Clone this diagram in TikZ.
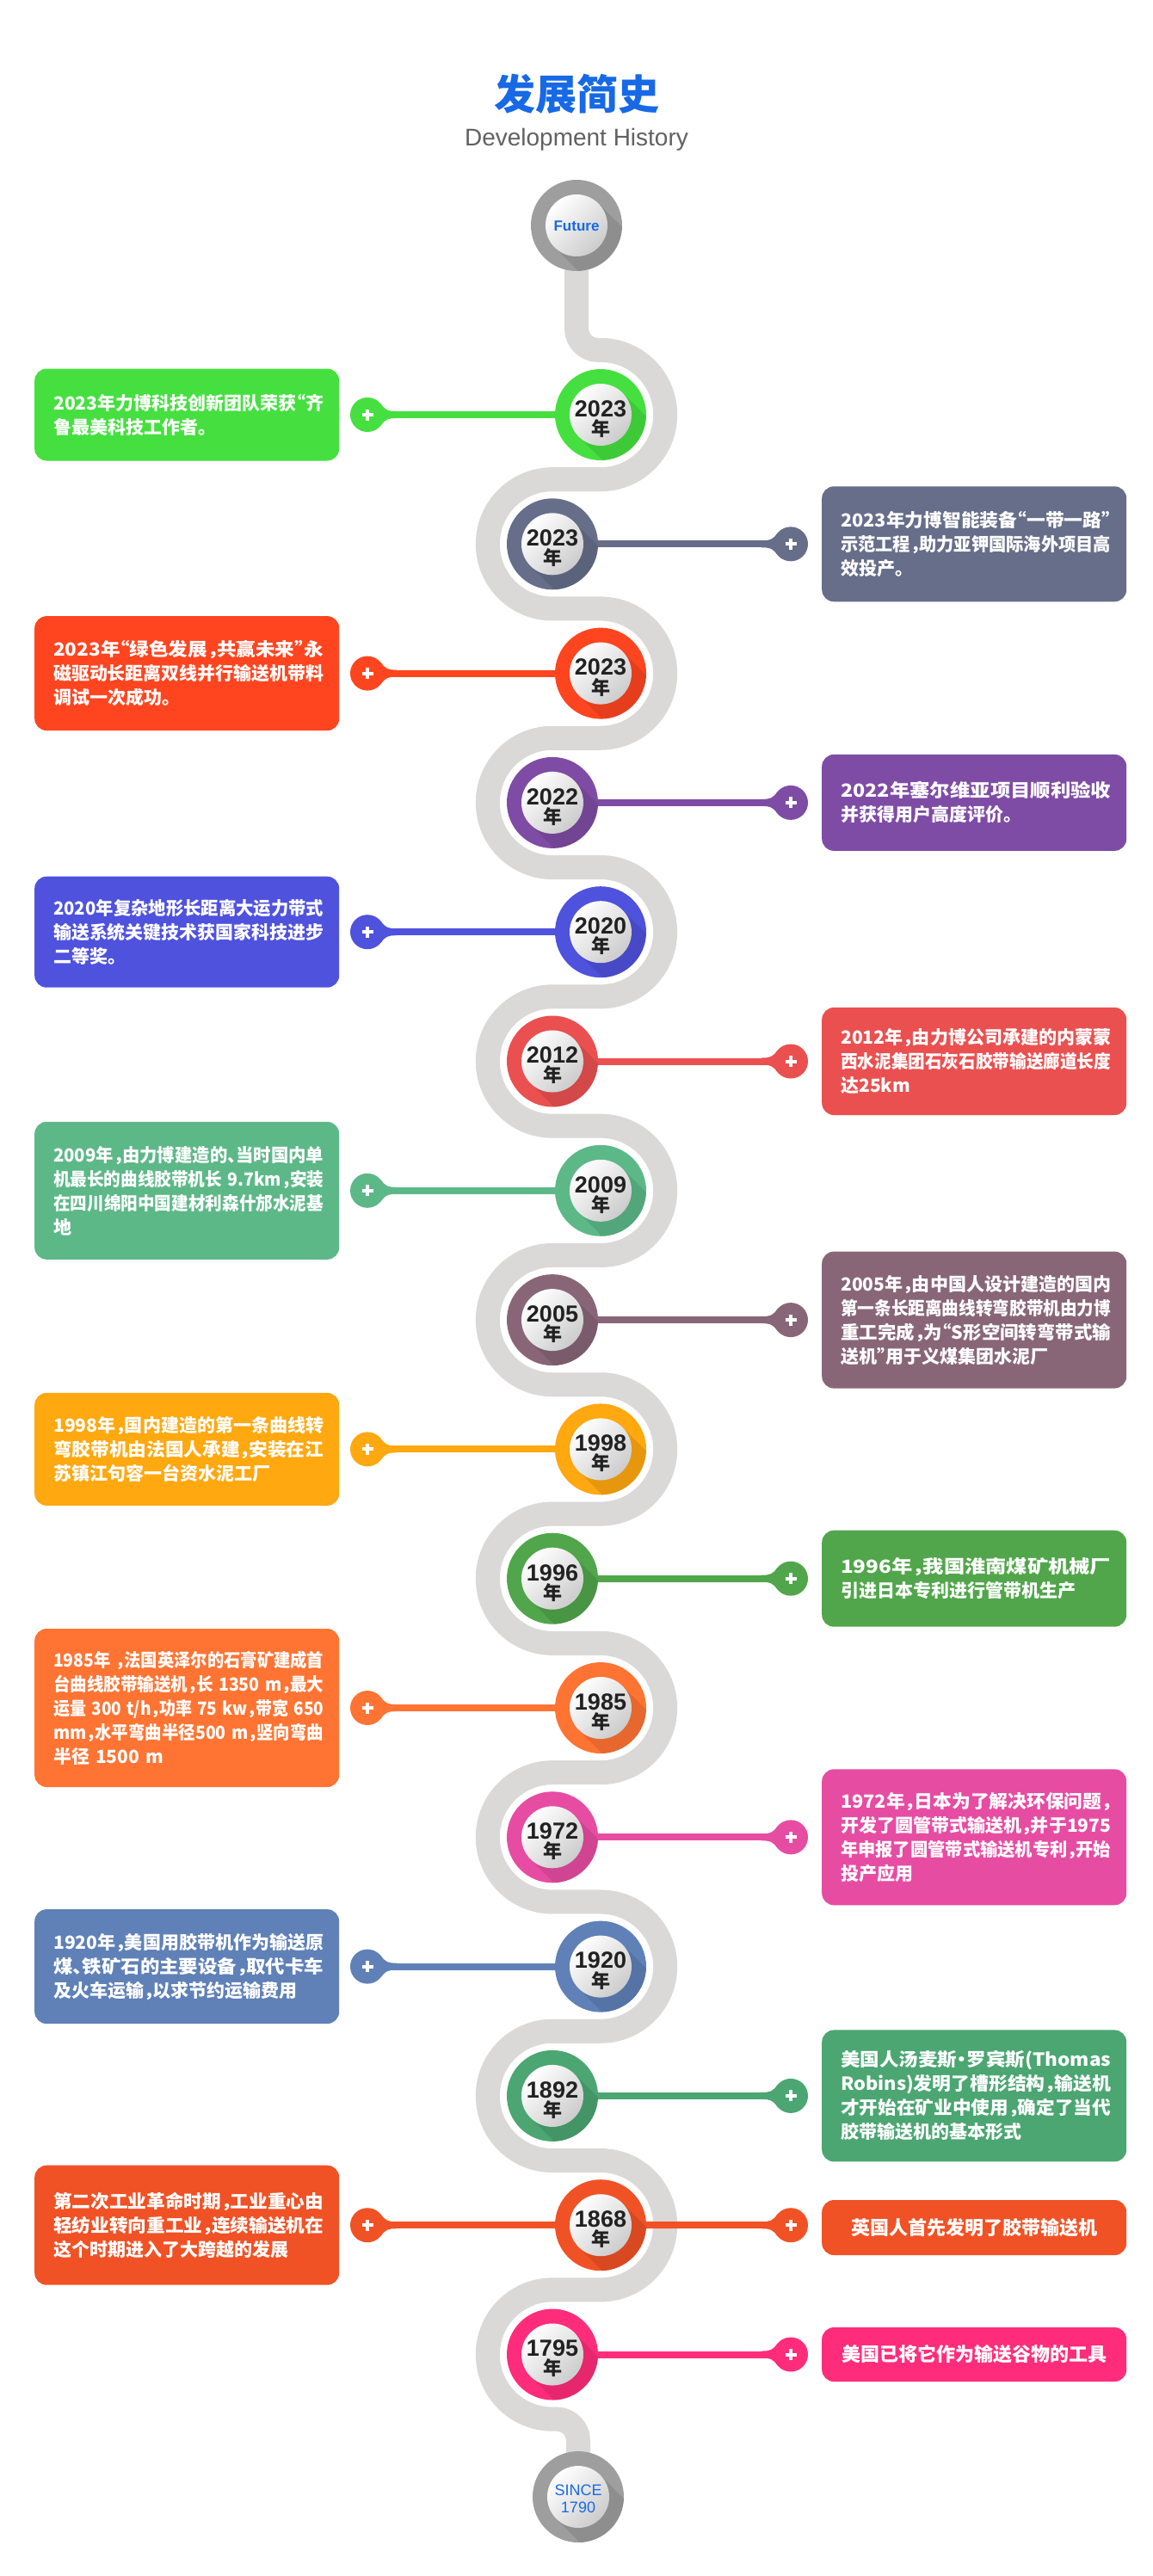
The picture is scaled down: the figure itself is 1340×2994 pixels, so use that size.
\documentclass[tikz,border=0pt]{standalone}
\usepackage{fontspec}
\usepackage{graphicx}
\setmainfont{Liberation Sans}
\newfontfamily\cjk{Noto Sans CJK SC}[RawFeature=+halt]
\usetikzlibrary{calc}
\definecolor{c0}{HTML}{45E03F}
\definecolor{c1}{HTML}{666E8A}
\definecolor{c2}{HTML}{FF4520}
\definecolor{c3}{HTML}{7F4CA5}
\definecolor{c4}{HTML}{4F52DD}
\definecolor{c5}{HTML}{EB5050}
\definecolor{c6}{HTML}{5DB888}
\definecolor{c7}{HTML}{886678}
\definecolor{c8}{HTML}{FFA810}
\definecolor{c9}{HTML}{51A64B}
\definecolor{c10}{HTML}{FF7433}
\definecolor{c11}{HTML}{E74CA3}
\definecolor{c12}{HTML}{5F81B7}
\definecolor{c13}{HTML}{4BA672}
\definecolor{c14}{HTML}{F05225}
\definecolor{c15}{HTML}{FF2C7B}
\definecolor{ringgray}{HTML}{9E9E9E}
\definecolor{roadgray}{HTML}{DAD9D8}
\definecolor{titleblue}{HTML}{1769E6}
\newcommand\bxfont{\cjk\bfseries\fontsize{21}{28}\selectfont}
\newcommand\fl[1]{\resizebox{314pt}{\height}{#1}}
\newcommand\flare[3]{\fill[#2] ($(#1)+(#3*15.3,-12.9)$) .. controls ($(#1)+(#3*21,-5)$) and ($(#1)+(#3*24,-4)$) .. ($(#1)+(#3*34,-4)$) -- ($(#1)+(#3*34,4)$) .. controls ($(#1)+(#3*24,4)$) and ($(#1)+(#3*21,5)$) .. ($(#1)+(#3*15.3,12.9)$) -- cycle;}
\tikzset{
  road/.style={draw=roadgray, line width=28pt, line join=round},
  yr/.style={circle, fill=#1, minimum size=106pt, inner sep=0pt, path picture={
    \coordinate (ppc) at (path picture bounding box.center);
    \fill[#1!72!black, opacity=0.35] ($(ppc)+(25.5,-25.5)$) -- ($(ppc)+(-25.5,25.5)$) -- ($(ppc)+(54.5,105.5)$) -- ($(ppc)+(105.5,54.5)$) -- cycle;
    \shade[top color=white, bottom color=black!20, shading angle=45] (ppc) circle[radius=36];
  }},
  knob/.style={circle, fill=#1, minimum size=40pt, inner sep=0pt, path picture={
    \fill[white] ($(path picture bounding box.center)+(-6.5,-2)$) rectangle ($(path picture bounding box.center)+(6.5,2)$);
    \fill[white] ($(path picture bounding box.center)+(-2,-6.5)$) rectangle ($(path picture bounding box.center)+(2,6.5)$);
  }},
  conn/.style={draw=#1, line width=8pt},
  tbox/.style={rectangle, rounded corners=14pt, fill=#1, text=white, font=\bxfont, align=left, text width=310pt, inner xsep=22pt, inner ysep=0pt, anchor=west},
  cbox/.style={tbox=#1, align=center, font=\cjk\bfseries\fontsize{22}{28}\selectfont},
  yrnum/.style={font=\bfseries\fontsize{27}{27}\selectfont, text=black!87, inner sep=0pt},
  yrcjk/.style={font=\cjk\bfseries\fontsize{22}{22}\selectfont, text=black!87, inner sep=0pt},
}
\begin{document}
\begin{tikzpicture}[x=1pt, y=-1pt]
\fill[white] (0,0) rectangle (1340,2994);
\useasboundingbox (0,0) rectangle (1340,2994);

% title
\node[font=\cjk\bfseries\fontsize{48}{48}\selectfont, text=titleblue] (title) at (670,109) {发展简史};
\node[font=\fontsize{28}{28}\selectfont, text=black!62] (subtitle) at (670,162) {Development History};

% winding road
\draw[road] (670,262) -- (670,381.85) arc[start angle=180, end angle=90, radius=25] -- (698,406.85)
  \foreach \i in {0,...,15} { -- ({698-56*mod(\i,2)},{482+150.3*\i-75.15}) arc[start angle={-90+360*mod(\i,2)}, end angle=90, radius=75.15] }
  -- (647,2811.65) arc[start angle=-90, end angle=0, radius=25] -- (672,2902);

% end circles
\node[yr=ringgray] (future) at (670,262) {};
\node[font=\bfseries\fontsize{17}{17}\selectfont, text=titleblue, inner sep=0pt] (futuretext) at (670,263) {Future};
\node[yr=ringgray] (since) at (672,2902) {};
\node[font=\fontsize{18}{20}\selectfont, text=titleblue, align=center, inner sep=0pt] (sincetext) at (672,2904) {SINCE\\1790};

% year circles
\foreach \i in {0,...,15} {
  \node[yr=c\i] (c\i) at ({698-56*mod(\i,2)},{482+150.3*\i}) {};
}

% knobs and connectors (left side)
\foreach \i in {0,2,...,14} {
  \node[knob=c\i] (p\i) at (427,{482+150.3*\i}) {};
  \draw[conn=c\i] (c\i) -- (p\i);
  \flare{p\i}{c\i}{1}
}
% knobs and connectors (right side)
\foreach \i in {1,3,...,15} {
  \node[knob=c\i] (p\i) at (919,{482+150.3*\i}) {};
  \draw[conn=c\i] (c\i) -- (p\i);
  \flare{p\i}{c\i}{-1}
}
\node[knob=c14] (q14) at (919,2586.2) {};
\draw[conn=c14] (c14) -- (q14);
\flare{q14}{c14}{-1}

% year labels
\foreach \i/\yr in {0/2023,1/2023,2/2023,3/2022,4/2020,5/2012,6/2009,7/2005,8/1998,9/1996,10/1985,11/1972,12/1920,13/1892,14/1868,15/1795} {
  \node[yrnum] (y\i) at ({698-56*mod(\i,2)},{482+150.3*\i-7}) {\yr};
  \node[yrcjk] (n\i) at ({698-56*mod(\i,2)},{482+150.3*\i+16}) {年};
}

% text boxes
\node[tbox=c0, minimum height=107pt] (b0) at (40,482.0) {\fl{2023年力博科技创新团队荣获“齐}\\鲁最美科技工作者。};
\node[tbox=c1, minimum height=134pt] (b1) at (955,632.3) {\fl{2023年力博智能装备“一带一路”}\\\fl{示范工程，助力亚钾国际海外项目高}\\效投产。};
\node[tbox=c2, minimum height=133pt] (b2) at (40,782.6) {\fl{2023年“绿色发展，共赢未来”永}\\\fl{磁驱动长距离双线并行输送机带料}\\调试一次成功。};
\node[tbox=c3, minimum height=112pt] (b3) at (955,932.9) {\fl{2022年塞尔维亚项目顺利验收}\\并获得用户高度评价。};
\node[tbox=c4, minimum height=129pt] (b4) at (40,1083.2) {\fl{2020年复杂地形长距离大运力带式}\\\fl{输送系统关键技术获国家科技进步}\\二等奖。};
\node[tbox=c5, minimum height=125pt] (b5) at (955,1233.5) {\fl{2012年，由力博公司承建的内蒙蒙}\\\fl{西水泥集团石灰石胶带输送廊道长度}\\达25km};
\node[tbox=c6, minimum height=160pt] (b6) at (40,1383.8) {\fl{2009年，由力博建造的、当时国内单}\\\fl{机最长的曲线胶带机长 9.7km，安装}\\\fl{在四川绵阳中国建材利森什邡水泥基}\\地};
\node[tbox=c7, minimum height=159pt] (b7) at (955,1534.1) {\fl{2005年，由中国人设计建造的国内}\\\fl{第一条长距离曲线转弯胶带机由力博}\\\fl{重工完成，为“S形空间转弯带式输}\\送机”用于义煤集团水泥厂};
\node[tbox=c8, minimum height=131pt] (b8) at (40,1684.4) {\fl{1998年，国内建造的第一条曲线转}\\\fl{弯胶带机由法国人承建，安装在江}\\苏镇江句容一台资水泥工厂};
\node[tbox=c9, minimum height=112pt] (b9) at (955,1834.7) {\fl{1996年，我国淮南煤矿机械厂}\\引进日本专利进行管带机生产};
\node[tbox=c10, minimum height=184pt] (b10) at (40,1985.0) {\fl{1985年 ，法国英泽尔的石膏矿建成首}\\\fl{台曲线胶带输送机，长 1350 m，最大}\\\fl{运量 300 t/h，功率 75 kw，带宽 650}\\\fl{mm，水平弯曲半径500 m，竖向弯曲}\\半径 1500 m};
\node[tbox=c11, minimum height=158pt] (b11) at (955,2135.3) {\fl{1972年，日本为了解决环保问题，}\\\fl{开发了圆管带式输送机，并于1975}\\\fl{年申报了圆管带式输送机专利，开始}\\投产应用};
\node[tbox=c12, minimum height=133pt] (b12) at (40,2285.6) {\fl{1920年，美国用胶带机作为输送原}\\\fl{煤、铁矿石的主要设备，取代卡车}\\及火车运输，以求节约运输费用};
\node[tbox=c13, minimum height=153pt] (b13) at (955,2435.9) {\fl{美国人汤麦斯·罗宾斯(Thomas}\\\fl{Robins)发明了槽形结构，输送机}\\\fl{才开始在矿业中使用，确定了当代}\\胶带输送机的基本形式};
\node[tbox=c14, minimum height=139pt] (b14) at (40,2586.2) {\fl{第二次工业革命时期，工业重心由}\\\fl{轻纺业转向重工业，连续输送机在}\\这个时期进入了大跨越的发展};
\node[cbox=c14, minimum height=64pt] (r14) at (955,2589) {英国人首先发明了胶带输送机};
\node[cbox=c15, minimum height=63pt] (b15) at (955,2736.5) {美国已将它作为输送谷物的工具};
\end{tikzpicture}
\end{document}
